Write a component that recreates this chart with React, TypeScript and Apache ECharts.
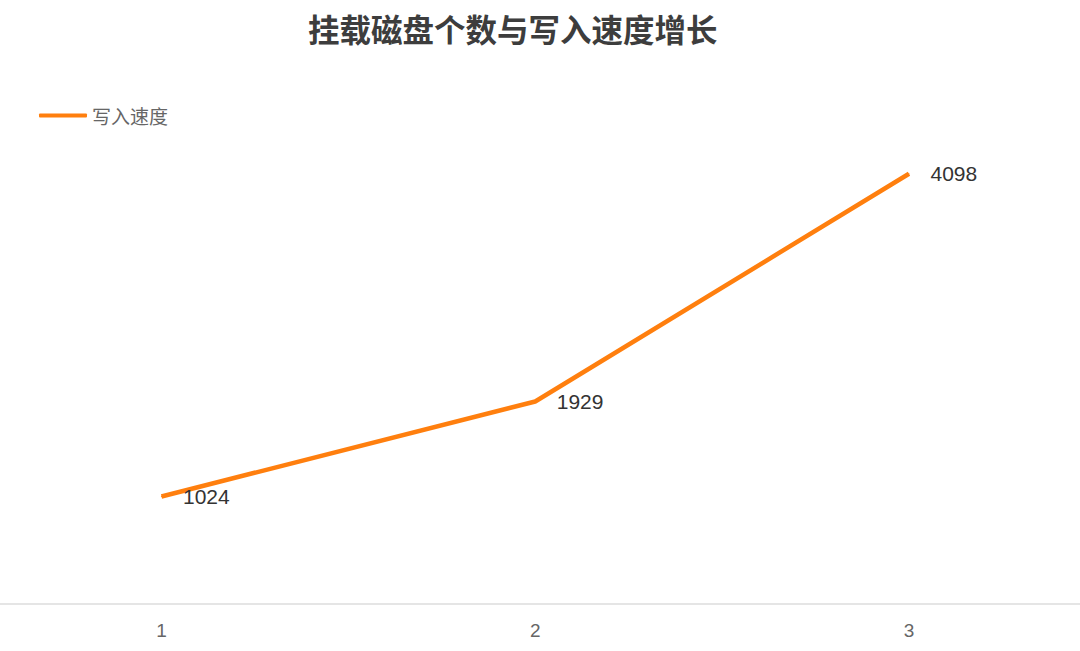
import React, { useEffect, useRef } from "react";
import * as echarts from "echarts";

const categories = ["1", "2", "3"];
const writeSpeed = [1024, 1929, 4098];
const seriesName = "写入速度";
const titleText = "挂载磁盘个数与写入速度增长";

export default function App() {
  const ref = useRef<HTMLDivElement>(null);
  useEffect(() => {
    if (!ref.current) return;
    const chart = echarts.init(ref.current, null, { renderer: "svg" });
    const xs = categories.map((c) => Number(c));
    chart.setOption({
      animation: false,
      backgroundColor: "#ffffff",
      title: {
        text: titleText,
        left: 303,
        top: 7,
        textStyle: {
          fontSize: 31.5,
          fontWeight: "bold",
          color: "#3d3d3d",
          fontFamily: "Noto Sans CJK SC",
        },
      },
      legend: {
        left: 34,
        top: 101,
        itemWidth: 48,
        itemHeight: 4,
        data: [
          {
            name: seriesName,
            icon: "roundRect",
            itemStyle: { color: "#ff7f0e" },
          },
        ],
        textStyle: {
          fontSize: 19,
          color: "#666",
          fontFamily: "Noto Sans CJK SC",
        },
      },
      grid: { left: 0, right: 0, top: 79, bottom: 47 },
      xAxis: {
        type: "value",
        min: 0.568,
        max: 3.4575,
        axisLine: { show: true, onZero: false, lineStyle: { color: "#dcdcdc", width: 1.5 } },
        axisTick: { show: false },
        splitLine: { show: false },
        axisLabel: {
          customValues: xs,
          color: "#666",
          fontSize: 19,
          margin: 17,
          fontFamily: "Liberation Sans",
        },
      },
      yAxis: {
        type: "value",
        min: 0,
        max: 5000,
        show: false,
        splitLine: { show: false },
      },
      series: [
        {
          name: seriesName,
          type: "line",
          data: xs.map((x, i) => [x, writeSpeed[i]]),
          showSymbol: true,
          symbol: "circle",
          symbolSize: 1,
          lineStyle: { color: "#ff7f0e", width: 4.5 },
          itemStyle: { color: "#ff7f0e" },
          label: {
            show: true,
            position: "right",
            distance: 21,
            offset: [0, 0],
            fontSize: 21,
            color: "#333",
            fontFamily: "Liberation Sans",
          },
        },
      ],
    });
    return () => chart.dispose();
  }, []);
  return (
    <div
      ref={ref}
      style={{ position: "absolute", left: 0, top: 0, width: 1080, height: 651 }}
    />
  );
}
